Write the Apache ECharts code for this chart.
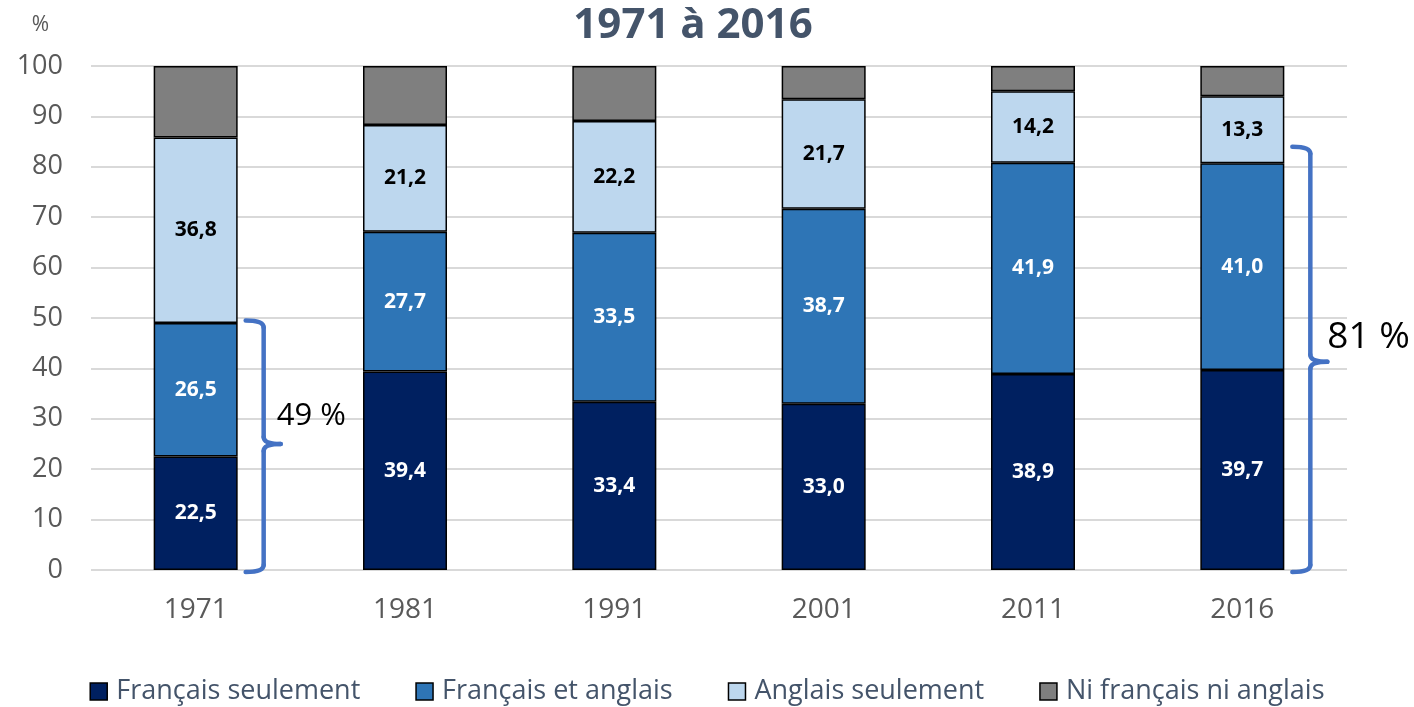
<!DOCTYPE html>
<html>
<head>
<meta charset="utf-8">
<script src="https://cdn.jsdelivr.net/npm/echarts@6/dist/echarts.min.js"></script>
<style>
    html, body {margin: 0; padding: 0; background: #ffffff;}
    #chart {width: 1414px; height: 707px;}
</style>
</head>
<body>
<div id="chart"></div>
<script>
// données
var years = ['1971', '1981', '1991', '2001', '2011', '2016'];
var francaisSeul = [22.5, 39.4, 33.4, 33.0, 38.9, 39.7];
var francaisAnglais = [26.5, 27.7, 33.5, 38.7, 41.9, 41.0];
var anglaisSeul = [36.8, 21.2, 22.2, 21.7, 14.2, 13.3];
var niFrNiAng = [14.2, 11.7, 10.9, 6.6, 5.0, 6.0];
var yTicks = [0, 10, 20, 30, 40, 50, 60, 70, 80, 90, 100];
// accolades : [index catégorie, bas, milieu, haut, texte]
var braces = [
    [0, 0, 25, 49.5, '49 %'],
    [5, 0, 41.3, 84, '81 %']
];

var font = '"Open Sans", "Noto Sans", sans-serif';
var colors = ['#002060', '#2E75B6', '#BDD7EE', '#7F7F7F'];

function comma(p) {
    return p.value.toFixed(1).replace('.', ',');
}

function makeSeries(name, data, color, labelColor) {
    return {
        name: name,
        type: 'bar',
        stack: 'total',
        barWidth: 84,
        data: data,
        itemStyle: {
            color: color,
            borderColor: '#000000',
            borderWidth: 1.5
        },
        label: {
            show: !!labelColor,
            position: 'inside',
            color: labelColor,
            fontFamily: font,
            fontWeight: 'bold',
            fontSize: 21,
            formatter: comma
        }
    };
}

var chart = echarts.init(document.getElementById('chart'));
var option = {
    animation: false,
    color: colors,
    title: {
        text: '1971 à 2016',
        left: 688,
        textAlign: 'center',
        top: 0,
        textStyle: {
            color: '#44546A',
            fontFamily: font,
            fontWeight: 'bold',
            fontSize: 42
        }
    },
    legend: {
        bottom: -3,
        left: 'center',
        itemWidth: 17,
        itemHeight: 17,
        itemGap: 55,
        icon: 'rect',
        itemStyle: {borderColor: '#000000', borderWidth: 1.5},
        textStyle: {
            color: '#44546A',
            fontFamily: font,
            fontSize: 27,
            padding: [0, 0, 0, 4]
        },
        data: ['Français seulement', 'Français et anglais', 'Anglais seulement', 'Ni français ni anglais']
    },
    grid: {
        left: 91,
        right: 67,
        top: 66,
        bottom: 137,
        containLabel: false
    },
    xAxis: {
        type: 'category',
        data: years,
        axisTick: {show: false},
        axisLine: {show: false},
        axisLabel: {
            color: '#595959',
            fontFamily: font,
            fontSize: 28,
            margin: 26
        }
    },
    yAxis: {
        type: 'value',
        min: 0,
        max: 100,
        interval: 10,
        name: '%',
        nameLocation: 'end',
        nameGap: 30,
        nameTextStyle: {
            color: '#595959',
            fontFamily: font,
            fontSize: 21,
            align: 'right',
            padding: [0, 42, 0, 0]
        },
        axisLine: {show: false},
        axisTick: {show: false},
        splitLine: {lineStyle: {color: '#D9D9D9', width: 2}},
        axisLabel: {
            color: '#595959',
            fontFamily: font,
            fontSize: 27,
            margin: 28,
            formatter: function (v) {
                return yTicks.indexOf(v) >= 0 ? v : '';
            }
        }
    },
    series: [
        makeSeries('Français seulement', francaisSeul, colors[0], '#ffffff'),
        makeSeries('Français et anglais', francaisAnglais, colors[1], '#ffffff'),
        makeSeries('Anglais seulement', anglaisSeul, colors[2], '#000000'),
        makeSeries('Ni français ni anglais', niFrNiAng, colors[3], null)
    ]
};
chart.setOption(option);

// accolades dessinées avec les échelles du graphique
var braceStyle = {fill: null, stroke: '#4472C4', lineWidth: 4.5, lineCap: 'round'};
function curve(x1, y1, cx, cy, x2, y2) {
    return {
        type: 'bezierCurve',
        shape: {x1: x1, y1: y1, cpx1: cx, cpy1: cy, x2: x2, y2: y2},
        style: braceStyle
    };
}
function seg(x1, y1, x2, y2) {
    return {
        type: 'line',
        shape: {x1: x1, y1: y1, x2: x2, y2: y2},
        style: braceStyle
    };
}

var labelFonts = [31, 37];
// décalage du bas du texte par rapport à la pointe de l'accolade
var labelShift = [[-4, -12], [0, -6]];
var graphics = [];
braces.forEach(function (b, i) {
    var c = chart.convertToPixel({gridIndex: 0}, [b[0], b[1]]);
    var cx = c[0];
    var yb = c[1] + 2;
    var ym = chart.convertToPixel({gridIndex: 0}, [b[0], b[2]])[1];
    var yt = chart.convertToPixel({gridIndex: 0}, [b[0], b[3]])[1];
    var x0 = cx + 50;
    var xv = cx + 68;
    var xm = cx + 85;
    var r = 7;
    graphics.push({
        type: 'group',
        children: [
            curve(x0, yt, xv, yt, xv, yt + r),
            seg(xv, yt + r, xv, ym - r),
            curve(xv, ym - r, xv, ym, xm, ym),
            curve(xm, ym, xv, ym, xv, ym + r),
            seg(xv, ym + r, xv, yb - r),
            curve(xv, yb - r, xv, yb, x0, yb)
        ]
    });
    graphics.push({
        type: 'text',
        x: xm + labelShift[i][0],
        y: ym + labelShift[i][1],
        style: {
            text: b[4],
            fill: '#000000',
            font: labelFonts[i] + 'px ' + font,
            textAlign: 'left',
            textVerticalAlign: 'bottom'
        }
    });
});
chart.setOption({graphic: graphics});
</script>
</body>
</html>
